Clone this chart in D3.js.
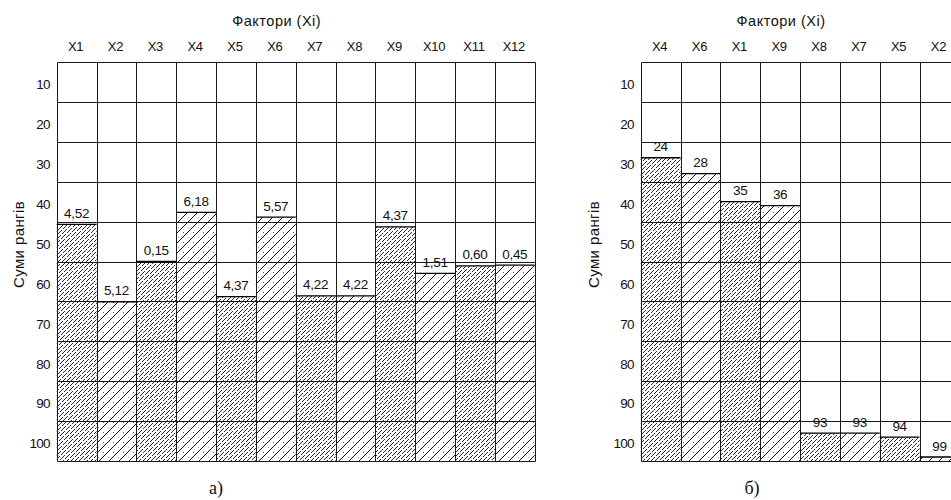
<!DOCTYPE html>
<html><head><meta charset="utf-8">
<script src="https://cdn.jsdelivr.net/npm/d3@7"></script>
<style>html,body{margin:0;padding:0;background:#fff;overflow:hidden}</style>
</head><body>
<svg id="chart" width="951" height="500"></svg>
<script>
// ---- data ----
const leftCategories = ["X1","X2","X3","X4","X5","X6","X7","X8","X9","X10","X11","X12"];
const leftRankSums   = [40.7, 60.1, 50.0, 37.7, 58.8, 38.9, 58.6, 58.6, 41.3, 53.0, 51.1, 50.9];
const leftLabels     = ["4,52","5,12","0,15","6,18","4,37","5,57","4,22","4,22","4,37","1,51","0,60","0,45"];

const rightCategories = ["X4","X6","X1","X9","X8","X7","X5","X2"];
const rightRankSums   = [24, 28, 35, 36, 93, 93, 94, 99];
const rightLabels     = ["24","28","35","36","93","93","94","99"];

const yTickValues = [10,20,30,40,50,60,70,80,90,100];
const titleText = "Фактори (Xi)";
const yAxisTitle = "Суми рангів";
const captions = ["а)", "б)"];

// ---- setup ----
const svg = d3.select("#chart");
const defs = svg.append("defs");

// dense dashed diagonal hatch (pixel tile 24x24, staggered gaps)
const pA = defs.append("pattern").attr("id","hatchA")
  .attr("patternUnits","userSpaceOnUse").attr("x",0).attr("y",0)
  .attr("width",24).attr("height",24);
for (let xx = 0; xx < 24; xx++) for (let yy = 0; yy < 24; yy++) {
  const s = xx + yy;
  if (s % 4 === 3) {
    const k = Math.floor(s / 4);
    const t = (((xx - yy - 6 * k) % 12) + 12) % 12;
    if (t !== 1) {
      pA.append("rect").attr("x",xx).attr("y",yy).attr("width",1).attr("height",1)
        .attr("fill","#2a2a2a").attr("shape-rendering","crispEdges");
    }
  }
}

// sparse solid diagonal hatch with dots (pixel tile 10x10)
const pB = defs.append("pattern").attr("id","hatchB")
  .attr("patternUnits","userSpaceOnUse").attr("x",0).attr("y",0)
  .attr("width",10).attr("height",10);
for (let xx = 0; xx < 10; xx++) for (let yy = 0; yy < 10; yy++) {
  if ((xx + yy) % 10 === 9) {
    pB.append("rect").attr("x",xx).attr("y",yy).attr("width",1).attr("height",1)
      .attr("fill","#111").attr("shape-rendering","crispEdges");
  }
}
pB.append("rect").attr("x",3).attr("y",2).attr("width",1).attr("height",1).attr("fill","#555").attr("shape-rendering","crispEdges");
pB.append("rect").attr("x",8).attr("y",7).attr("width",1).attr("height",1).attr("fill","#aaa").attr("shape-rendering","crispEdges");

const step = 478 / 12;
const y = d3.scaleLinear().domain([0, 100]).range([62, 461]);
const px = v => Math.round(v) + 0.5;
const lineColor = "#1a1a1a";

function drawPanel(cats, sums, labels, left, yLabelX, captionX, caption) {
  const g = svg.append("g");
  const x = d3.scaleBand().domain(cats).range([left, left + step * cats.length]).padding(0);
  const right = left + step * cats.length;

  // bars
  g.selectAll("rect.bar").data(cats).join("rect")
    .attr("class","bar")
    .attr("x", c => x(c))
    .attr("width", x.bandwidth())
    .attr("y", (c,i) => y(sums[i]))
    .attr("height", (c,i) => y(100) - y(sums[i]))
    .attr("fill", (c,i) => i % 2 === 0 ? "url(#hatchA)" : "url(#hatchB)");

  // horizontal grid lines
  g.selectAll("line.h").data([0].concat(yTickValues)).join("line")
    .attr("x1", px(left)).attr("x2", px(right))
    .attr("y1", d => px(y(d))).attr("y2", d => px(y(d)))
    .attr("stroke", lineColor).attr("stroke-width", 1);

  // vertical lines
  const edges = cats.map(c => x(c)).concat([right]);
  g.selectAll("line.v").data(edges).join("line")
    .attr("x1", d => px(d)).attr("x2", d => px(d))
    .attr("y1", px(y(0))).attr("y2", px(y(100)))
    .attr("stroke", lineColor).attr("stroke-width", 1);

  // bar top edges
  g.selectAll("line.top").data(cats).join("line")
    .attr("x1", c => x(c)).attr("x2", c => x(c) + x.bandwidth())
    .attr("y1", (c,i) => y(sums[i])).attr("y2", (c,i) => y(sums[i]))
    .attr("stroke", "#000").attr("stroke-width", 1.3);

  // value labels
  g.selectAll("text.val").data(cats).join("text")
    .attr("x", c => x(c) + x.bandwidth() / 2)
    .attr("y", (c,i) => y(sums[i]) - 6.5)
    .attr("text-anchor","middle")
    .attr("font-family","'Liberation Sans', Arial, sans-serif")
    .attr("font-size", 13.5)
    .attr("letter-spacing", -0.3)
    .attr("fill","#111")
    .text((c,i) => labels[i]);

  // category labels
  g.selectAll("text.cat").data(cats).join("text")
    .attr("x", c => x(c) + x.bandwidth() / 2 - 1)
    .attr("y", 50.7)
    .attr("text-anchor","middle")
    .attr("font-family","'Liberation Sans', Arial, sans-serif")
    .attr("font-size", 13)
    .attr("letter-spacing", -0.3)
    .attr("fill","#111")
    .text(c => c);

  // y axis tick labels
  const ax = g.append("g").attr("transform", `translate(${left},0)`)
    .call(d3.axisLeft(y).tickValues(yTickValues).tickSize(0).tickPadding(7).tickFormat(d3.format("d")));
  ax.select(".domain").remove();
  ax.selectAll("text").attr("y", -17.5)
    .attr("font-family","'Liberation Sans', Arial, sans-serif")
    .attr("font-size", 13.5).attr("letter-spacing", -0.8).attr("fill","#111");

  // title
  g.append("text")
    .attr("x", (left + right) / 2 - 19)
    .attr("y", 25.5)
    .attr("text-anchor","middle")
    .attr("font-family","'Liberation Sans', Arial, sans-serif")
    .attr("font-size", 14.5)
    .attr("letter-spacing", 0.5)
    .attr("fill","#111")
    .text(titleText);

  // y axis title
  g.append("text")
    .attr("transform", `translate(${yLabelX},244.5) rotate(-90)`)
    .attr("text-anchor","middle")
    .attr("dy","0.35em")
    .attr("font-family","'Liberation Sans', Arial, sans-serif")
    .attr("font-size", 15)
    .attr("letter-spacing", 0.4)
    .attr("fill","#111")
    .text(yAxisTitle);

  // caption
  g.append("text")
    .attr("x", captionX)
    .attr("y", 494)
    .attr("text-anchor","middle")
    .attr("font-family","'Liberation Serif', 'Times New Roman', serif")
    .attr("font-size", 18)
    .attr("fill","#111")
    .text(caption);
}

drawPanel(leftCategories, leftRankSums, leftLabels, 56.7, 19, 216, captions[0]);
drawPanel(rightCategories, rightRankSums, rightLabels, 640.7, 594, 752, captions[1]);
</script>
</body></html>
